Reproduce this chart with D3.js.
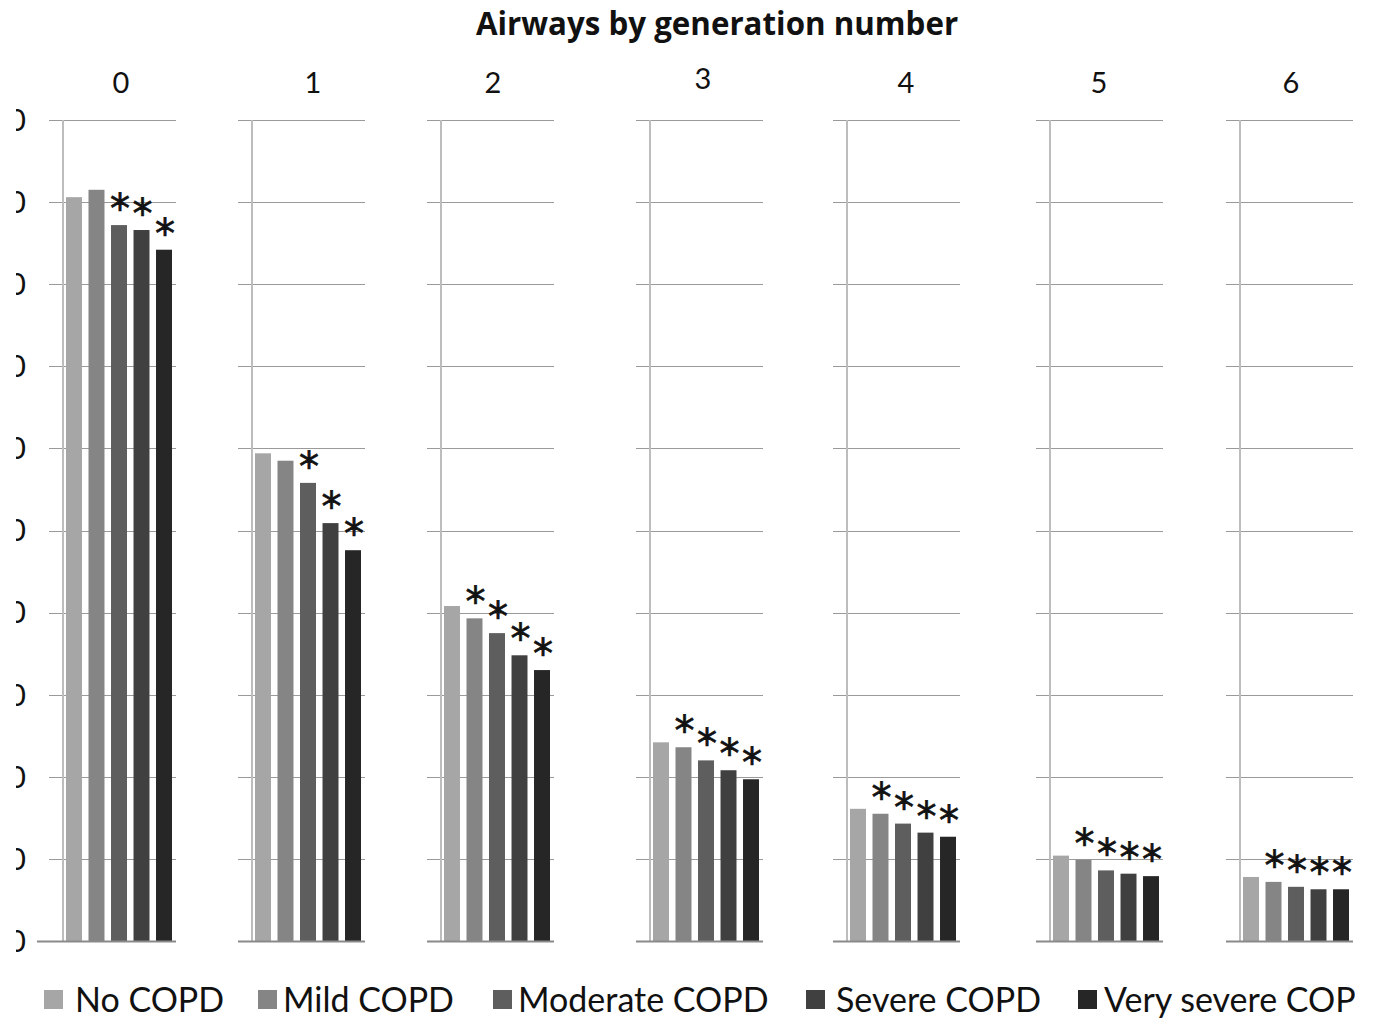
<!DOCTYPE html>
<html><head><meta charset="utf-8">
<script src="https://cdn.jsdelivr.net/npm/d3@7"></script>
<style>body{margin:0;background:#fff}svg{display:block}</style>
</head><body>
<script>
const categories = ["0","1","2","3","4","5","6"];
const series = ["No COPD","Mild COPD","Moderate COPD","Severe COPD","Very severe COPD"];
const noCOPD     = [90.6, 59.4, 40.8, 24.2, 16.1, 10.4, 7.8];
const mildCOPD   = [91.5, 58.5, 39.3, 23.6, 15.5,  9.9, 7.2];
const modCOPD    = [87.2, 55.8, 37.5, 22.0, 14.3,  8.6, 6.6];
const sevCOPD    = [86.6, 50.9, 34.8, 20.8, 13.2,  8.2, 6.3];
const vsevCOPD   = [84.2, 47.6, 33.0, 19.7, 12.7,  7.9, 6.3];
// significance (asterisk) flags per generation, per series
const significant = [
  [0,0,1,1,1],[0,0,1,1,1],[0,1,1,1,1],[0,1,1,1,1],[0,1,1,1,1],[0,1,1,1,1],[0,1,1,1,1]
];
const yTicks = [0,10,20,30,40,50,60,70,80,90,100];
const title = "Airways by generation number";

const seriesValues = [noCOPD, mildCOPD, modCOPD, sevCOPD, vsevCOPD];
const colors = ["#a6a6a6","#858585","#5e5e5e","#404040","#262626"];

const W = 1378, H = 1019;
const panelAxisX = [63, 252, 441, 650, 847, 1050, 1240];
const labelX = [121, 313, 493, 703, 906, 1099, 1291];
const labelY = [93, 93, 93, 89, 93, 93, 93];

const svg = d3.select("body").append("svg").attr("width", W).attr("height", H)
  .style("font-family", "Lato, 'Open Sans', sans-serif");

const y = d3.scaleLinear().domain([0, 100]).range([941, 120]);
const xb = d3.scaleBand().domain(series).range([3, 109]).paddingInner(0.29).paddingOuter(0);

svg.append("text").attr("x", 717).attr("y", 35).attr("text-anchor", "middle")
  .attr("font-family", "'Open Sans', sans-serif")
  .attr("font-size", 31.3).attr("font-weight", "bold").attr("fill", "#111").text(title);

// y tick labels, cut at the left edge as in the reference
svg.append("clipPath").attr("id", "yclip").append("rect").attr("x", 16).attr("y", 0).attr("width", 40).attr("height", H);
svg.append("g").attr("clip-path", "url(#yclip)").selectAll("text").data(yTicks).join("text")
  .attr("x", 26).attr("y", d => y(d)).attr("dy", "0.36em").attr("text-anchor", "end")
  .attr("font-size", 30).attr("fill", "#111").text(d => d);

categories.forEach((cat, i) => {
  const ax = panelAxisX[i];
  const g = svg.append("g").attr("transform", `translate(${ax},0)`);
  g.selectAll("line.grid").data(yTicks.filter(t => t > 0)).join("line")
    .attr("x1", -14).attr("x2", 113).attr("y1", d => Math.round(y(d)) + 0.5).attr("y2", d => Math.round(y(d)) + 0.5)
    .attr("stroke", "#9a9a9a").attr("stroke-width", 1.2);
  g.append("line").attr("x1", 0).attr("x2", 0).attr("y1", y(100)).attr("y2", y(0))
    .attr("stroke", "#bdbdbd").attr("stroke-width", 2);
  const data = series.map((s, k) => ({s, k, v: seriesValues[k][i], sig: significant[i][k]}));
  g.selectAll("rect.bar").data(data).join("rect")
    .attr("x", d => xb(d.s)).attr("width", xb.bandwidth())
    .attr("y", d => y(d.v)).attr("height", d => y(0) - y(d.v))
    .attr("fill", d => colors[d.k]);
  g.append("line").attr("x1", i === 0 ? -26 : -14).attr("x2", 113).attr("y1", y(0) + 0.5).attr("y2", y(0) + 0.5)
    .attr("stroke", "#8a8a8a").attr("stroke-width", 2);
  g.selectAll("text.ast").data(data.filter(d => d.sig)).join("text")
    .attr("x", d => xb(d.s) + xb.bandwidth() / 2 + 1).attr("y", d => y(d.v) - 2)
    .attr("text-anchor", "middle").attr("font-size", 40).attr("fill", "#111")
    .attr("stroke", "#111").attr("stroke-width", 0.7)
    .attr("font-family", "'DejaVu Sans', sans-serif").text("*");
  svg.append("text").attr("x", labelX[i]).attr("y", labelY[i]).attr("text-anchor", "middle")
    .attr("font-size", 29).attr("fill", "#111").text(cat);
});

// legend
const legendX = [44, 258, 493, 806, 1078];
const legendTextX = [75, 283, 518, 836, 1104];
svg.append("clipPath").attr("id", "lclip").append("rect").attr("x", 0).attr("y", 960).attr("width", 1355).attr("height", 60);
const lg = svg.append("g").attr("clip-path", "url(#lclip)");
series.forEach((s, k) => {
  lg.append("rect").attr("x", legendX[k]).attr("y", 990).attr("width", 19).attr("height", 19).attr("fill", colors[k]);
  lg.append("text").attr("x", legendTextX[k]).attr("y", 1012).attr("font-size", 34).attr("fill", "#111").text(s);
});
</script>
</body></html>
